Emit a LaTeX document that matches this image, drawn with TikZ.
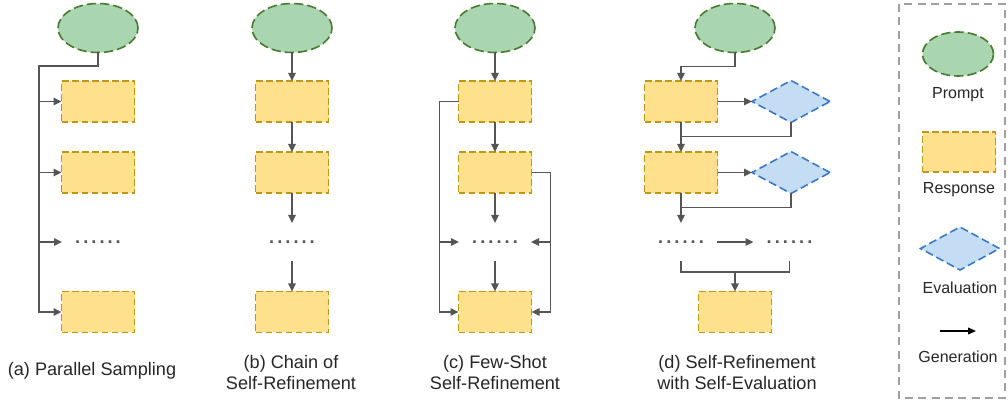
\documentclass[tikz,border=0pt]{standalone}
\usepackage{fontspec}
\setmainfont{Liberation Sans}
\usetikzlibrary{shapes.geometric, arrows.meta, calc}

\definecolor{promptfill}{HTML}{A9D5B1}
\definecolor{promptline}{HTML}{4A7A30}
\definecolor{respfill}{HTML}{FFE08C}
\definecolor{respline}{HTML}{C09612}
\definecolor{evalfill}{HTML}{C4DDF4}
\definecolor{evalline}{HTML}{3A7AC2}
\definecolor{linegray}{HTML}{555555}
\definecolor{boxgray}{HTML}{A0A0A0}

\newcommand{\dotrow}{.\hspace{2.3pt}.\hspace{2.3pt}.\hspace{2.3pt}.\hspace{2.3pt}.\hspace{2.3pt}.}

\begin{document}
\begin{tikzpicture}[
    x=0.75pt, y=-0.75pt,
    prompt/.style={ellipse, draw=promptline, fill=promptfill, line width=1.2pt, dash pattern=on 7pt off 3pt, minimum width=60pt, minimum height=36.75pt, inner sep=0pt, outer sep=0pt},
    response/.style={rectangle, draw=respline, fill=respfill, line width=1.2pt, dash pattern=on 5pt off 2.5pt, minimum width=54.75pt, minimum height=30.75pt, inner sep=0pt, outer sep=0pt},
    evaluation/.style={diamond, draw=evalline, fill=evalfill, line width=1.2pt, dash pattern=on 6pt off 3pt, minimum width=58.5pt, minimum height=31.5pt, inner sep=0pt, outer sep=0pt},
    dots/.style={rectangle, text=linegray, font=\fontsize{13.6}{16}\selectfont\bfseries, minimum width=54pt, minimum height=28.5pt, inner sep=0pt, outer sep=0pt},
    caption/.style={align=center, text=black!85, font=\fontsize{13.6}{16}\selectfont},
    legend/.style={text=black!85, font=\fontsize{12}{14}\selectfont},
    line/.style={draw=linegray, line width=1.3pt},
    arrow/.style={line, -{Triangle[length=6pt, width=5.5pt]}}
]
\useasboundingbox (0,0) rectangle (1008,402);

% (a) parallel sampling
\node[prompt] (ap) at (98,28) {};
\node[response] (a1) at (98,101.5) {};
\node[response] (a2) at (98,172.5) {};
\node[dots] (a3) at (98,242) {\dotrow};
\node[response] (a4) at (98,312) {};
\coordinate (atop) at (39,66);
\draw[arrow] (ap.south) |- (atop) |- (a4.west);
\foreach \n in {a1,a2,a3}
    \draw[arrow] (atop |- \n) -- (\n.west);
\node[caption] (acap) at (92,371) {(a) Parallel Sampling};

% (b) chain of self-refinement
\node[prompt] (bp) at (292,28) {};
\node[response] (b1) at (292,101.5) {};
\node[response] (b2) at (292,172.5) {};
\node[dots] (b3) at (292,242) {\dotrow};
\node[response] (b4) at (292,312) {};
\draw[arrow] (bp) -- (b1);
\draw[arrow] (b1) -- (b2);
\draw[arrow] (b2) -- (b3);
\draw[arrow] (b3) -- (b4);
\node[caption] (bcap) at (291,372.5) {(b) Chain of\\Self-Refinement};

% (c) few-shot self-refinement
\node[prompt] (cp) at (495,28) {};
\node[response] (c1) at (495,101.5) {};
\node[response] (c2) at (495,172.5) {};
\node[dots] (c3) at (495,242) {\dotrow};
\node[response] (c4) at (495,312) {};
\draw[arrow] (cp) -- (c1);
\draw[arrow] (c1) -- (c2);
\draw[arrow] (c2) -- (c3);
\draw[arrow] (c3) -- (c4);
\draw[arrow] (c1.west) -- ++(-19,0) |- (c4.west);
\draw[arrow] (c2.east) -- ++(19,0) |- (c4.east);
\coordinate (cl) at (440,242);
\coordinate (cr) at (551,242);
\draw[arrow] (cl) -- (c3.west);
\draw[arrow] (cr) -- (c3.east);
\node[caption] (ccap) at (495,372.5) {(c) Few-Shot\\Self-Refinement};

% (d) self-refinement with self-evaluation
\node[prompt] (dp) at (735,28) {};
\node[response] (d1) at (681,101.5) {};
\node[evaluation] (e1) at (791,101.5) {};
\node[response] (d2) at (681,172.5) {};
\node[evaluation] (e2) at (791,172.5) {};
\node[dots] (d3a) at (681,242) {\dotrow};
\node[dots] (d3b) at (789.5,242) {\dotrow};
\node[response] (d4) at (735,312) {};
\draw[arrow] (dp.south) -- ++(0,14) -| (d1.north);
\draw[arrow] (d1) -- (e1);
\draw[arrow] (d2) -- (e2);
\draw[arrow] (d1) -- (d2);
\draw[arrow] (d2) -- (d3a);
\draw[line] (e1.south) -- ++(0,14) -| (d1.south);
\draw[line] (e2.south) -- ++(0,14) -| (d2.south);
\draw[arrow] (d3a) -- (d3b);
\coordinate (dmerge) at (735,272);
\draw[line] (d3a.south) |- (dmerge) -| (d3b.south);
\draw[arrow] (dmerge) -- (d4.north);
\node[caption] (dcap) at (737,372.5) {(d) Self-Refinement\\with Self-Evaluation};

% legend
\draw[boxgray, line width=1pt, dash pattern=on 6pt off 4pt] (899,4) rectangle (1005,398);
\node[prompt, minimum width=53.25pt, minimum height=33pt] (lp) at (958,54) {};
\node[legend] (lpt) at (958,95) {Prompt};
\node[response, minimum height=30pt] (lr) at (959,152) {};
\node[legend] (lrt) at (959,190) {Response};
\node[evaluation, minimum width=59.25pt, minimum height=32.25pt] (le) at (960,248.5) {};
\node[legend] (let) at (960,288) {Evaluation};
\coordinate (lgs) at (940,331);
\coordinate (lge) at (976,331);
\draw[line width=1.2pt, black, -{Triangle[length=6pt, width=5pt]}] (lgs) -- (lge);
\node[legend] (lgt) at (958,357) {Generation};

\end{tikzpicture}
\end{document}
